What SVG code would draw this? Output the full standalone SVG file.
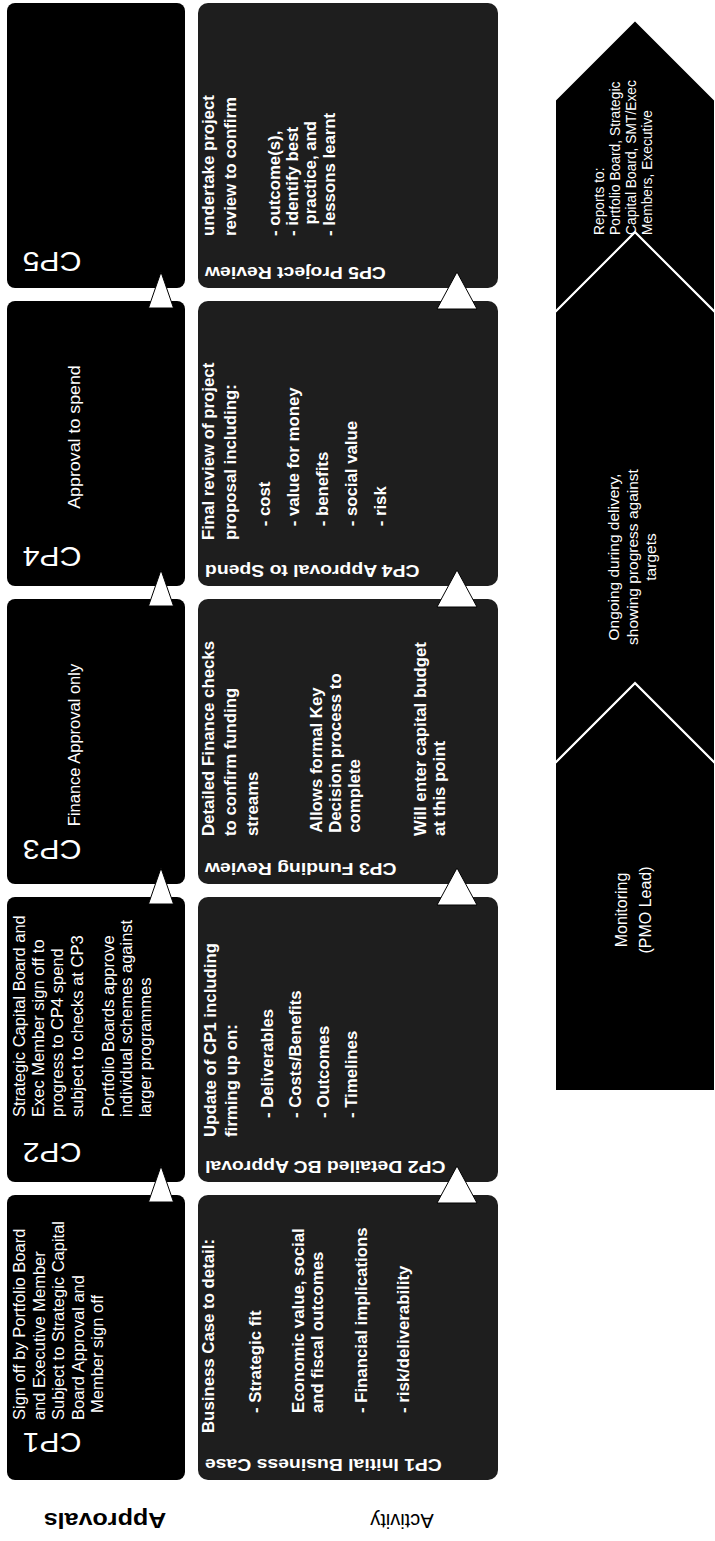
<svg xmlns="http://www.w3.org/2000/svg" width="715" height="1541" viewBox="0 0 715 1541">
<style>
.ap{fill:#000}
.ac{fill:#1e1e1e}
.tri{fill:#fff;stroke:#000;stroke-width:1}
.chev{fill:#000;stroke:#fff;stroke-width:2;stroke-linejoin:miter}
.t{font-family:"Liberation Sans",Arial,sans-serif;fill:#fff}
.ab{font-size:16.5px}
.av{font-size:16px;font-weight:bold}
.hd{font-size:17px;font-weight:bold}
.cp{font-size:27px}
.lb{font-family:"Liberation Sans",Arial,sans-serif;fill:#000}
</style>
<rect width="715" height="1541" fill="#fff"/>

<g id="label-approvals"><text class="lb" font-size="22" font-weight="bold" text-anchor="middle" transform="translate(105,1513) rotate(180) scale(1.14,1)">Approvals</text></g>
<g id="label-activity"><text class="lb" font-size="20" text-anchor="middle" transform="translate(402,1514) rotate(180)">Activity</text></g>

<g id="approval-cp1">
<rect class="ap" x="7" y="1195" width="178" height="285" rx="8"/>
<text class="t cp" text-anchor="middle" transform="translate(52,1433) rotate(180) scale(1.12,1)">CP1</text>
<text class="t ab" transform="translate(0,1420) rotate(-90)"><tspan x="0" y="25">Sign off by Portfolio Board</tspan><tspan x="0" y="44.5">and Executive Member</tspan><tspan x="0" y="64">Subject to Strategic Capital</tspan><tspan x="0" y="83.5">Board Approval and</tspan><tspan x="7" y="103">Member sign off</tspan></text>
</g>
<g id="approval-cp2">
<rect class="ap" x="7" y="897" width="178" height="285" rx="8"/>
<text class="t cp" text-anchor="middle" transform="translate(52,1143) rotate(180) scale(1.12,1)">CP2</text>
<text class="t ab" transform="translate(0,1117) rotate(-90)"><tspan x="0" y="25">Strategic Capital Board and</tspan><tspan x="0" y="44">Exec Member sign off to</tspan><tspan x="0" y="63">progress to CP4 spend</tspan><tspan x="0" y="83">subject to checks at CP3</tspan><tspan x="0" y="114">Portfolio Boards approve</tspan><tspan x="0" y="132">individual schemes against</tspan><tspan x="0" y="151">larger programmes</tspan></text>
</g>
<g id="approval-cp3">
<rect class="ap" x="7" y="599" width="178" height="285" rx="8"/>
<text class="t cp" text-anchor="middle" transform="translate(52,840) rotate(180) scale(1.12,1)">CP3</text>
<text class="t ab" text-anchor="middle" transform="translate(80,745) rotate(-90)">Finance Approval only</text>
</g>
<g id="approval-cp4">
<rect class="ap" x="7" y="301" width="178" height="285" rx="8"/>
<text class="t cp" text-anchor="middle" transform="translate(52,547) rotate(180) scale(1.12,1)">CP4</text>
<text class="t ab" text-anchor="middle" transform="translate(80,437) rotate(-90) scale(1.08,1)">Approval to spend</text>
</g>
<g id="approval-cp5">
<rect class="ap" x="7" y="3" width="178" height="285" rx="8"/>
<text class="t cp" text-anchor="middle" transform="translate(52,252) rotate(180) scale(1.12,1)">CP5</text>
</g>

<g id="activity-cp1">
<rect class="ac" x="198" y="1195" width="300" height="285" rx="10"/>
<text class="t hd" text-anchor="end" transform="translate(205,1459) rotate(180) scale(1.14,1)">CP1 Initial Business Case</text>
<text class="t av" transform="translate(0,1433) rotate(-90) scale(1.05,1)"><tspan x="0" y="214">Business Case to detail:</tspan><tspan x="19" y="261">- Strategic fit</tspan><tspan x="19" y="304">Economic value, social</tspan><tspan x="19" y="323">and fiscal outcomes</tspan><tspan x="19" y="367">- Financial implications</tspan><tspan x="19" y="409">- risk/deliverability</tspan></text>
</g>
<g id="activity-cp2">
<rect class="ac" x="198" y="897" width="300" height="285" rx="10"/>
<text class="t hd" text-anchor="end" transform="translate(205,1161) rotate(180) scale(1.14,1)">CP2 Detailed BC Approval</text>
<text class="t av" transform="translate(0,1137) rotate(-90) scale(1.05,1)"><tspan x="0" y="216">Update of CP1 including</tspan><tspan x="0" y="237">firming up on:</tspan><tspan x="18" y="273">- Deliverables</tspan><tspan x="18" y="301">- Costs/Benefits</tspan><tspan x="18" y="329">- Outcomes</tspan><tspan x="18" y="357">- Timelines</tspan></text>
</g>
<g id="activity-cp3">
<rect class="ac" x="198" y="599" width="300" height="285" rx="10"/>
<text class="t hd" text-anchor="end" transform="translate(205,863) rotate(180) scale(1.14,1)">CP3 Funding Review</text>
<text class="t av" transform="translate(0,836) rotate(-90) scale(1.05,1)"><tspan x="0" y="214">Detailed Finance checks</tspan><tspan x="0" y="236">to confirm funding</tspan><tspan x="0" y="258">streams</tspan><tspan x="3" y="322">Allows formal Key</tspan><tspan x="3" y="341">Decision process to</tspan><tspan x="3" y="360">complete</tspan><tspan x="0" y="426">Will enter capital budget</tspan><tspan x="0" y="445">at this point</tspan></text>
</g>
<g id="activity-cp4">
<rect class="ac" x="198" y="301" width="300" height="285" rx="10"/>
<text class="t hd" text-anchor="end" transform="translate(205,565) rotate(180) scale(1.14,1)">CP4 Approval to Spend</text>
<text class="t av" transform="translate(0,540) rotate(-90) scale(1.05,1)"><tspan x="0" y="214">Final review of project</tspan><tspan x="0" y="236">proposal including:</tspan><tspan x="13" y="270">- cost</tspan><tspan x="13" y="299">- value for money</tspan><tspan x="13" y="328">- benefits</tspan><tspan x="13" y="357">- social value</tspan><tspan x="13" y="386">- risk</tspan></text>
</g>
<g id="activity-cp5">
<rect class="ac" x="198" y="3" width="300" height="285" rx="10"/>
<text class="t hd" text-anchor="end" transform="translate(205,267) rotate(180) scale(1.14,1)">CP5 Project Review</text>
<text class="t av" transform="translate(0,236) rotate(-90) scale(1.05,1)"><tspan x="0" y="214">undertake project</tspan><tspan x="0" y="236">review to confirm</tspan><tspan x="0" y="280">- outcome(s),</tspan><tspan x="0" y="298">- identify best</tspan><tspan x="11" y="316">practice, and</tspan><tspan x="0" y="335">- lessons learnt</tspan></text>
</g>

<g id="chevron-monitoring">
<polygon class="chev" points="555,1091 715,1091 715,763 635,683 555,763"/>
<text class="t" font-size="16" text-anchor="middle" transform="translate(0,910) rotate(-90)"><tspan x="0" y="627">Monitoring</tspan><tspan x="0" y="651">(PMO Lead)</tspan></text>
</g>
<g id="chevron-ongoing">
<polygon class="chev" points="555,763 635,683 715,763 715,312 635,232 555,312"/>
<text class="t" font-size="15.5" text-anchor="middle" transform="translate(0,557) rotate(-90)"><tspan x="0" y="619">Ongoing during delivery,</tspan><tspan x="0" y="638">showing progress against</tspan><tspan x="0" y="656">targets</tspan></text>
</g>
<g id="chevron-reports">
<polygon class="chev" points="555,312 635,232 715,312 715,100 635,20 555,100"/>
<text class="t" font-size="13.8" transform="translate(0,235) rotate(-90)"><tspan x="0" y="604">Reports to:</tspan><tspan x="0" y="620">Portfolio Board, Strategic</tspan><tspan x="0" y="636">Capital Board, SMT/Exec</tspan><tspan x="0" y="652">Members, Executive</tspan></text>
</g>

<g id="connectors">
<polygon class="tri" points="148.5,1202 161,1166 173.5,1202"/>
<polygon class="tri" points="148.5,904 161,868 173.5,904"/>
<polygon class="tri" points="148.5,606 161,570 173.5,606"/>
<polygon class="tri" points="148.5,308 161,272 173.5,308"/>
<polygon class="tri" points="437,1203 457,1166 477,1203"/>
<polygon class="tri" points="437,905 457,868 477,905"/>
<polygon class="tri" points="437,607 457,570 477,607"/>
<polygon class="tri" points="437,309 457,272 477,309"/>
</g>
</svg>
